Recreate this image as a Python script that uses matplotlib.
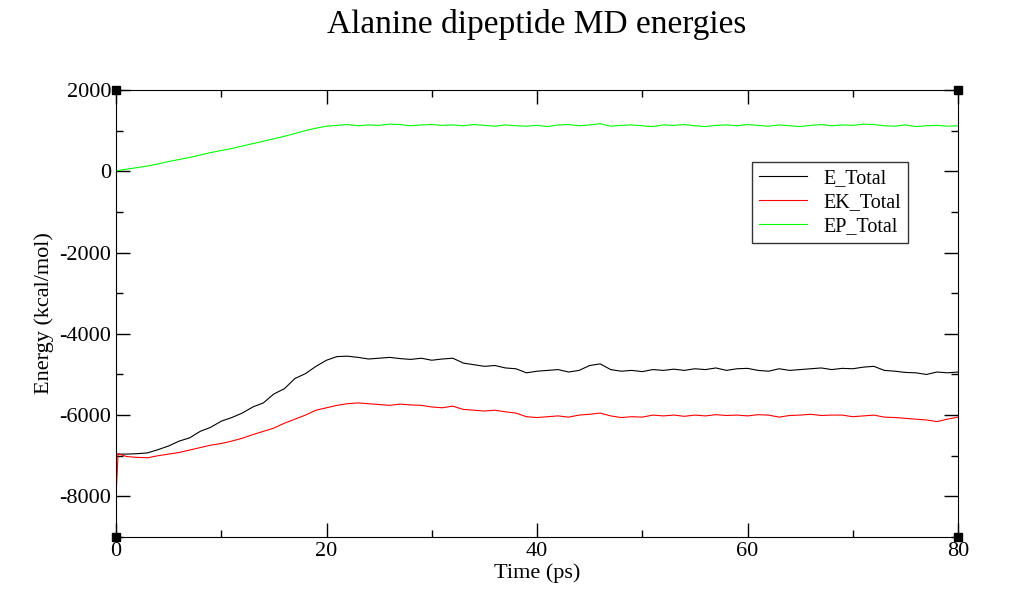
import matplotlib
matplotlib.use("Agg")
import matplotlib.pyplot as plt
from matplotlib.ticker import MultipleLocator

time_ps = [0, 0.2] + list(range(1, 81))
e_total = [-6950, -6960, -6960, -6950, -6930, -6850, -6760, -6640, -6560, -6400, -6300, -6150,
           -6060, -5950, -5800, -5700, -5480, -5350, -5100, -4980, -4800, -4650, -4560, -4550,
           -4580, -4620, -4600, -4580, -4610, -4630, -4600, -4650, -4620, -4600, -4720, -4760,
           -4800, -4780, -4840, -4860, -4960, -4920, -4900, -4880, -4940, -4900, -4780, -4740,
           -4880, -4920, -4900, -4930, -4880, -4900, -4870, -4900, -4860, -4880, -4840, -4900,
           -4860, -4850, -4900, -4920, -4860, -4900, -4880, -4860, -4840, -4880, -4850, -4860,
           -4820, -4800, -4900, -4920, -4950, -4960, -5000, -4940, -4960, -4940]
ek_total = [-8000, -6950, -7020, -7040, -7050, -7000, -6960, -6920, -6860, -6800, -6740, -6700,
            -6640, -6570, -6480, -6400, -6320, -6200, -6100, -6000, -5880, -5820, -5760, -5720,
            -5700, -5720, -5740, -5760, -5730, -5750, -5760, -5800, -5820, -5780, -5860, -5880,
            -5900, -5880, -5920, -5950, -6040, -6060, -6040, -6020, -6050, -6000, -5980, -5950,
            -6020, -6060, -6040, -6050, -6000, -6020, -6000, -6030, -6000, -6020, -5990, -6010,
            -6000, -6020, -5990, -6000, -6050, -6010, -6000, -5980, -6010, -6000, -6000, -6040,
            -6020, -6000, -6050, -6060, -6080, -6100, -6120, -6160, -6100, -6050]
ep_total = [0, 20, 50, 90, 130, 180, 240, 290, 340, 400, 460, 510, 560, 620, 680, 740, 800,
            860, 930, 1000, 1060, 1110, 1130, 1150, 1120, 1140, 1130, 1160, 1150, 1120, 1140,
            1150, 1130, 1140, 1120, 1150, 1130, 1110, 1140, 1120, 1110, 1130, 1100, 1140, 1150,
            1120, 1140, 1170, 1110, 1130, 1140, 1120, 1100, 1140, 1130, 1150, 1120, 1100, 1130,
            1140, 1120, 1150, 1130, 1110, 1140, 1120, 1100, 1130, 1150, 1120, 1140, 1130, 1160,
            1150, 1120, 1110, 1140, 1100, 1120, 1130, 1110, 1120]

plt.rcParams['font.family'] = ['Liberation Serif', 'DejaVu Serif']
plt.rcParams['axes.unicode_minus'] = False
fig = plt.figure(figsize=(10.14, 5.96), dpi=100)
ax = fig.add_axes([116/1014, 59/596, 842/1014, 447/596])
ax.plot(time_ps, e_total, color='black', lw=0.8, label='E_Total')
ax.plot(time_ps, ek_total, color='red', lw=0.8, label='EK_Total')
ax.plot(time_ps, ep_total, color='#00ff00', lw=0.8, label='EP_Total')
ax.set_xlim(0, 80)
ax.set_ylim(-9000, 2000)
ax.xaxis.set_major_locator(MultipleLocator(20))
ax.xaxis.set_minor_locator(MultipleLocator(10))
ax.yaxis.set_major_locator(MultipleLocator(2000))
ax.yaxis.set_minor_locator(MultipleLocator(1000))
ax.tick_params(which='both', direction='in', top=True, right=True, labelsize=16, width=1)
ax.tick_params(which='major', length=10)
ax.tick_params(which='minor', length=5)
ax.set_xlabel('Time (ps)', fontsize=16, labelpad=2)
ax.set_ylabel('Energy (kcal/mol)', fontsize=16)
fig.text(537/1014, 1-24/596, 'Alanine dipeptide MD energies', ha='center', va='center', fontsize=24)
for cx, cy in [(0, 0), (1, 0), (0, 1), (1, 1)]:
    ax.plot(cx, cy, 's', color='black', ms=6, transform=ax.transAxes, clip_on=False)
leg = ax.legend(loc='upper left', bbox_to_anchor=(636/842, 1-72/447), fontsize=14.5,
                frameon=True, fancybox=False, edgecolor='black', handlelength=2.4,
                borderpad=0.35, labelspacing=0.25, borderaxespad=0)
leg.get_frame().set_linewidth(1)
fig.savefig('out.png', dpi=100)
